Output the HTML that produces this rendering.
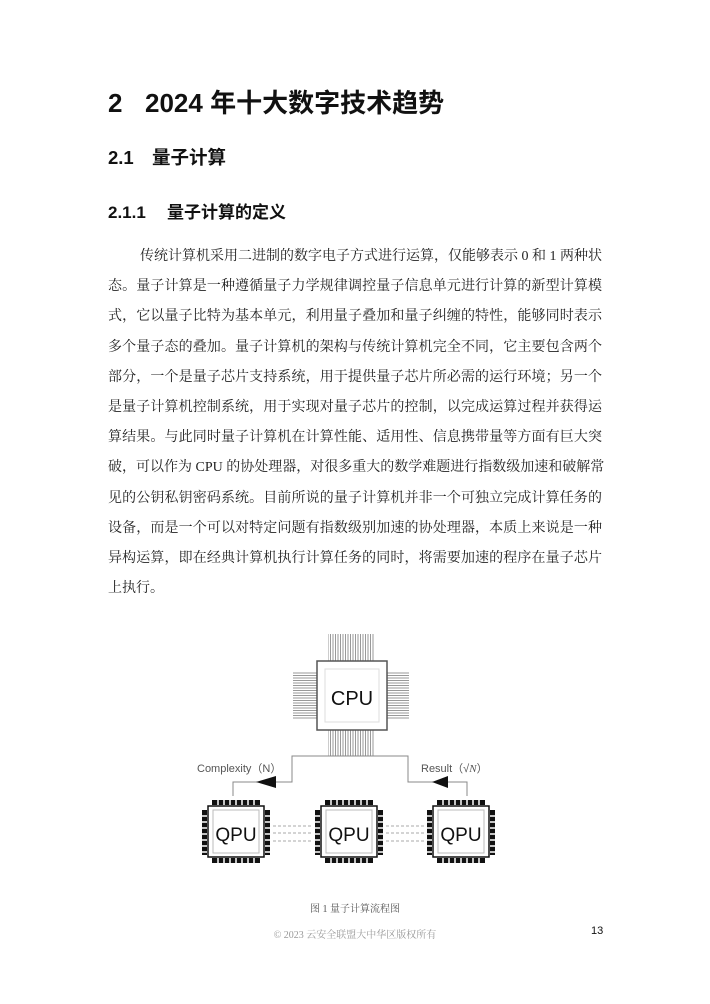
<!DOCTYPE html>
<html><head><meta charset="utf-8"><style>
body{margin:0;width:710px;height:1004px;background:#fff;position:relative;overflow:hidden;font-family:"Liberation Sans","Noto Sans CJK SC",sans-serif;color:#111}
.a{position:absolute;white-space:nowrap}
.p{position:absolute;left:108px;width:494px;font-family:"Liberation Serif","Noto Serif CJK SC",serif;font-size:14px;line-height:20px;text-align:justify;text-align-last:justify;white-space:nowrap;color:#222}
.h{font-weight:bold;line-height:1}
</style></head><body>
<div class="a h" style="left:108px;top:90px;font-size:26px">2<span style="position:absolute;left:37px">2024&nbsp;年十大数字技术趋势</span></div>
<div class="a h" style="left:108px;top:149px;font-size:18.5px">2.1<span style="position:absolute;left:44px">量子计算</span></div>
<div class="a h" style="left:108px;top:204px;font-size:17px">2.1.1<span style="position:absolute;left:59px">量子计算的定义</span></div>

<div class="p" style="top:247px;left:140px;width:462px">传统计算机采用二进制的数字电子方式进行运算，仅能够表示 0 和 1 两种状</div>
<div class="p" style="top:277px">态。量子计算是一种遵循量子力学规律调控量子信息单元进行计算的新型计算模</div>
<div class="p" style="top:307px">式，它以量子比特为基本单元，利用量子叠加和量子纠缠的特性，能够同时表示</div>
<div class="p" style="top:338px">多个量子态的叠加。量子计算机的架构与传统计算机完全不同，它主要包含两个</div>
<div class="p" style="top:368px">部分，一个是量子芯片支持系统，用于提供量子芯片所必需的运行环境；另一个</div>
<div class="p" style="top:398px">是量子计算机控制系统，用于实现对量子芯片的控制，以完成运算过程并获得运</div>
<div class="p" style="top:428px">算结果。与此同时量子计算机在计算性能、适用性、信息携带量等方面有巨大突</div>
<div class="p" style="top:458px">破，可以作为 CPU 的协处理器，对很多重大的数学难题进行指数级加速和破解常</div>
<div class="p" style="top:489px">见的公钥私钥密码系统。目前所说的量子计算机并非一个可独立完成计算任务的</div>
<div class="p" style="top:519px">设备，而是一个可以对特定问题有指数级别加速的协处理器，本质上来说是一种</div>
<div class="p" style="top:549px">异构运算，即在经典计算机执行计算任务的同时，将需要加速的程序在量子芯片</div>
<div class="p" style="top:579px;text-align-last:left">上执行。</div>

<svg class="a" style="left:0;top:0" width="710" height="1004" viewBox="0 0 710 1004">
<defs>
<pattern id="vp" width="2.5" height="10" patternUnits="userSpaceOnUse"><rect width="1" height="10" fill="#999"/></pattern>
<pattern id="hp" width="10" height="2.5" patternUnits="userSpaceOnUse"><rect width="10" height="1" fill="#999"/></pattern>
</defs>
<rect x="328" y="634" width="47" height="27" fill="url(#vp)"/>
<rect x="328" y="730" width="47" height="26" fill="url(#vp)"/>
<rect x="293" y="672" width="24" height="48" fill="url(#hp)"/>
<rect x="387" y="672" width="22" height="48" fill="url(#hp)"/>
<rect x="317" y="661" width="70" height="69" fill="#fff" stroke="#555" stroke-width="1.5"/>
<rect x="325" y="669" width="54" height="53" fill="none" stroke="#ddd"/>
<text x="352" y="705" font-size="20" text-anchor="middle" font-family="Liberation Sans" fill="#111">CPU</text>
<polyline points="233,796 233,782 292,782 292,756 408,756 408,782 467,782 467,796" fill="none" stroke="#888" stroke-width="1"/>
<polygon points="256,782 276,776 276,788" fill="#111"/>
<polygon points="432,782 448,776 448,788" fill="#111"/>
<text x="197" y="772" font-size="11" fill="#555" font-family="Liberation Sans,Noto Sans CJK SC">Complexity（N）</text>
<text x="421" y="772" font-size="11" fill="#555" font-family="Liberation Sans,Noto Sans CJK SC">Result（√<tspan font-style="italic" font-family="Liberation Serif">N</tspan>）</text>
<g stroke="#aaa" stroke-dasharray="3,2" stroke-width="1">
<line x1="273" y1="826" x2="313" y2="826"/><line x1="273" y1="833" x2="313" y2="833"/><line x1="273" y1="841" x2="313" y2="841"/>
<line x1="386" y1="826" x2="425" y2="826"/><line x1="386" y1="833" x2="425" y2="833"/><line x1="386" y1="841" x2="425" y2="841"/>
</g>
<g id="q">
<g fill="#111">
<rect x="212" y="800" width="48" height="5"/>
<rect x="212" y="858" width="48" height="5"/>
<rect x="202" y="810" width="5" height="45"/>
<rect x="265" y="810" width="5" height="45"/>
</g>
<g stroke="#fff" stroke-width="1.5">
<line x1="218" y1="799" x2="218" y2="864"/><line x1="224" y1="799" x2="224" y2="864"/><line x1="230" y1="799" x2="230" y2="864"/><line x1="236" y1="799" x2="236" y2="864"/><line x1="242" y1="799" x2="242" y2="864"/><line x1="248" y1="799" x2="248" y2="864"/><line x1="254" y1="799" x2="254" y2="864"/>
<line x1="201" y1="816" x2="271" y2="816"/><line x1="201" y1="822" x2="271" y2="822"/><line x1="201" y1="828" x2="271" y2="828"/><line x1="201" y1="834" x2="271" y2="834"/><line x1="201" y1="840" x2="271" y2="840"/><line x1="201" y1="846" x2="271" y2="846"/><line x1="201" y1="852" x2="271" y2="852"/>
</g>
<rect x="208" y="806" width="56" height="51" fill="#fff" stroke="#111" stroke-width="1.5"/>
<rect x="213" y="810" width="46" height="43" fill="none" stroke="#bbb"/>
<text x="236" y="841" font-size="19" text-anchor="middle" font-family="Liberation Sans" fill="#111">QPU</text>
</g>
<use href="#q" x="113"/>
<use href="#q" x="225"/>
</svg>

<div class="a" style="left:0;width:710px;text-align:center;top:900px;font-size:10px;color:#555;font-family:'Liberation Serif','Noto Serif CJK SC',serif">图 1 量子计算流程图</div>
<div class="a" style="left:0;width:710px;text-align:center;top:926px;font-size:10px;color:#999;font-family:'Liberation Serif','Noto Serif CJK SC',serif">© 2023 云安全联盟大中华区版权所有</div>
<div class="a" style="left:591px;top:925px;font-size:11px;color:#111">13</div>
</body></html>
